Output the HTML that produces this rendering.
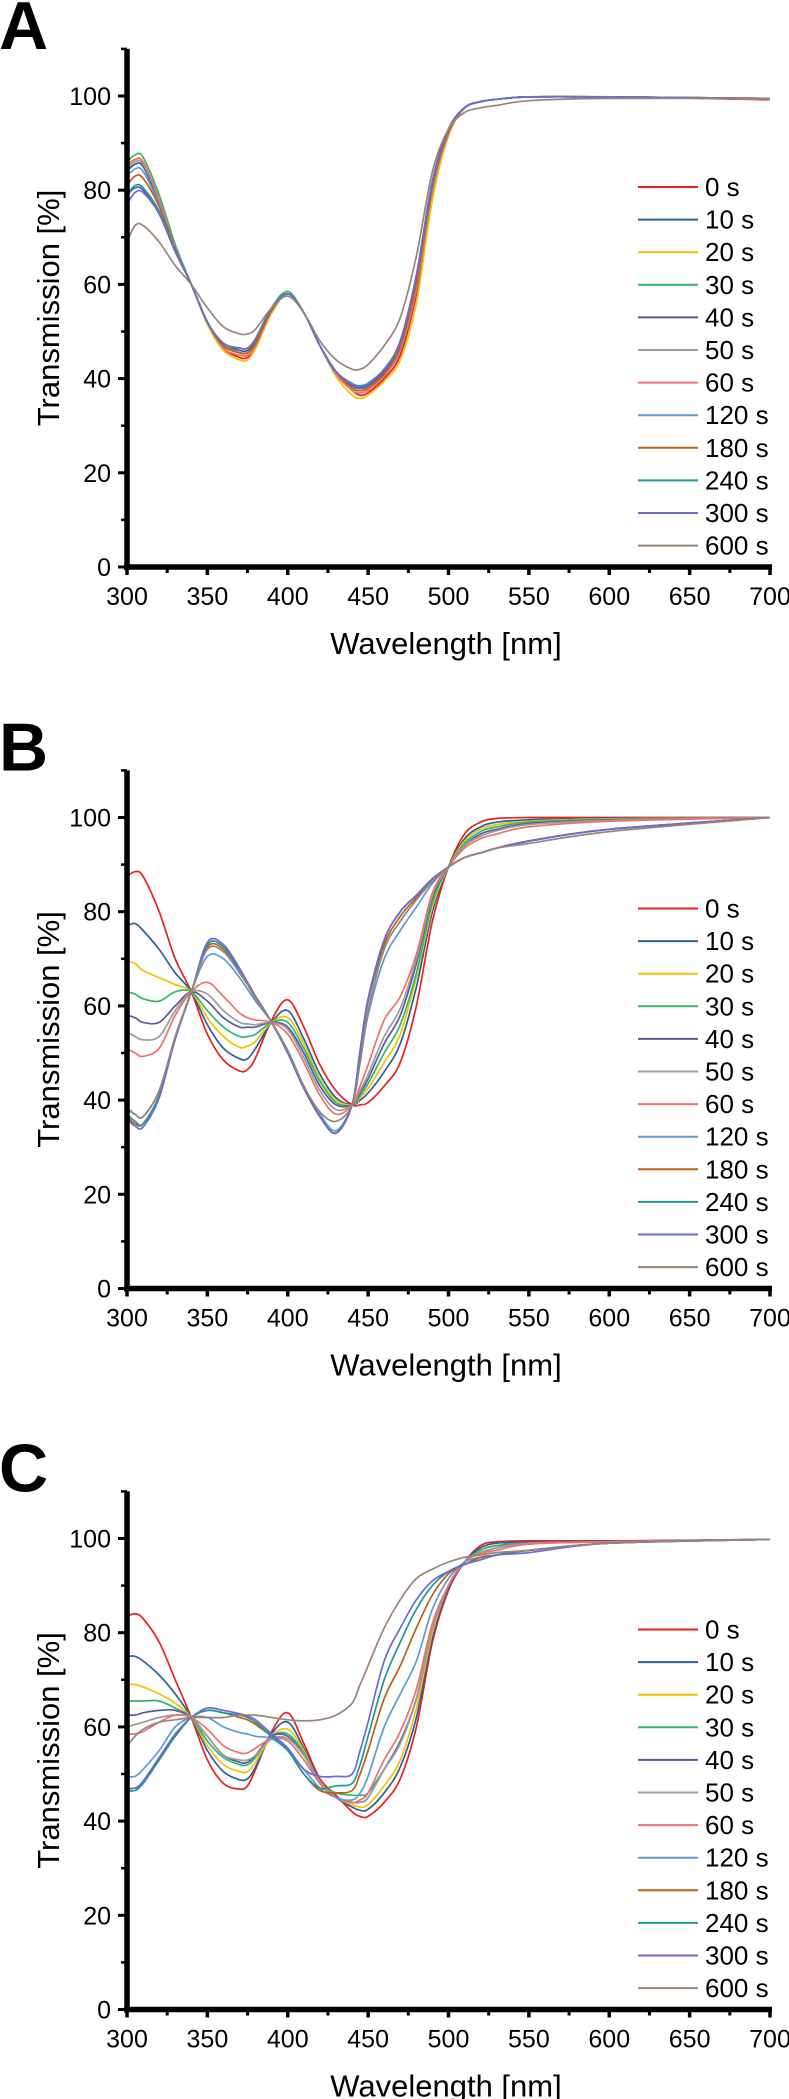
<!DOCTYPE html>
<html><head><meta charset="utf-8"><style>
html,body{margin:0;padding:0;background:#fff}
svg{display:block;font-family:"Liberation Sans",Arial,sans-serif}
</style></head><body>
<svg id="fig" width="789" height="2099" viewBox="0 0 789 2099" xmlns="http://www.w3.org/2000/svg"></svg>
<script>
const wavelengths=[300,305,310,320,330,340,350,360,370,375,380,390,400,410,420,430,440,445,450,460,470,480,490,500,510,520,530,550,600,700];
const seriesLabels=["0 s","10 s","20 s","30 s","40 s","50 s","60 s","120 s","180 s","240 s","300 s","600 s"];
const seriesColors=["#e8201f","#2b5fa0","#f5c000","#2fb86b","#5a5a9e","#9c9c9c","#f07070","#5b9bd5","#c0600c","#1a9a9a","#6a6ad8","#9a8478"];
const xTicks=[300,350,400,450,500,550,600,650,700];
const yTicks=[0,20,40,60,80,100];
const panelLetters=["A","B","C"];
const panelA=[
[85,86.5,86,78,68,60,52,46.5,44.5,44.5,46.5,54,58,54,47,41,37.5,36.5,37,40,45,58,79,92,97.5,98.8,99.3,99.8,99.8,99.2],
[84,85.5,85,77.5,68,60,52,47,45.5,45.5,47.5,54.5,58,54,47,41.5,38.5,38,38.5,41.5,47,61,81,92.5,97.5,98.8,99.3,99.8,99.8,99.5],
[85,86.5,86,78,68,60,51.5,46,44,44,46.5,54,58,54,47,40.5,36.5,35.8,36.5,39.5,44,56,78,91.5,97.5,98.8,99.3,99.8,99.8,99.3],
[86,87.5,87,79,68.5,60,52,47,46,46,48,55,58.5,54,47,41,38.5,38.5,39,42,47.5,61,81,92.5,97.5,98.8,99.3,99.8,99.8,99.5],
[79,80.5,80,75,67,60,52,47.5,46,46,48,55,58,54,47,41.5,38.5,38,38.5,41.5,47,61,81,92.5,97.5,98.8,99.3,99.8,99.8,99.5],
[84.5,86,85.5,78,68,60,52,47,45.5,45.5,47.5,54.5,58,54,47,41,38,37.5,38,41,46.5,60,80,92,97.5,98.8,99.3,99.8,99.8,99.4],
[85.5,86.5,86,78,68,60,52,46.5,45,45,47,54.5,58,54,47,41,37.5,37,37.5,40.5,46,59,80,92,97.5,98.8,99.3,99.8,99.8,99.3],
[83,84.5,84,77,68,60,52,47,45.5,45.5,47.5,54.5,58,54,47,41.5,38,37.5,38,41,46.5,60,80.5,92.5,97.5,98.8,99.3,99.8,99.8,99.4],
[81,83,82.5,76.5,67.5,60,52,47,45.5,45.5,47.5,54.5,58,54,47,41.5,38,37.5,38,41,47,60.5,81,92.5,97.5,98.8,99.3,99.8,99.8,99.4],
[79,81,80.5,75.5,67,60,52,47.5,46.5,46.5,48.5,55,58,54,47,41.5,39,38.5,39,42,48,62,82,93,97.5,98.8,99.3,99.8,99.8,99.5],
[77,79.5,79.5,75,67,60,52,47.5,46.5,46.5,48.5,55,58,54,47,41.5,38.8,38.3,38.8,42,48,62,82,93,97.5,98.8,99.3,99.8,99.8,99.5],
[69,72.5,72.5,69,64,60,55,51,49.5,49.5,50.5,55,57.5,54,48,44,42,42,43,47,53,66,84,93,96.5,97.5,98,99,99.5,99.5]];
const panelB=[
[87.5,88.5,87.5,80,70,63,54,48.5,46.2,46.5,49,57,61.3,55.5,47.5,42,39,39,39.5,43,48,60,78,89.5,96.5,99,99.8,100,100,100],
[77,77.5,76,72,67,63,56,51,48.8,48.8,51,56.5,59,53,45.5,40.5,39,40,41.5,46,52,64,80,89.5,95.5,98,99,99.5,99.8,100],
[69.5,69,67.5,66,64.5,63,57.5,53.5,51.2,51.5,52.5,56.5,57.5,52,44.5,40,39,40.5,42.5,48,54,66,81,89.5,95,97.5,98.5,99.2,99.7,100],
[63,62.5,61.5,61,63,63,59,55.5,53.5,53.5,54,56.5,56.5,51,44,39.5,39,41,43.5,50,56,67,82,89.5,94.5,97,98,99,99.6,100],
[58,57.5,56.5,56.5,60,63,61,57.5,55.5,55.5,55.5,56.5,55.5,50,43,39,39,41.5,44.5,52,58,69,83,89.5,94,96.5,97.5,98.7,99.5,100],
[54.5,53.5,52.8,53.5,59,63,62.5,59,56.5,56.2,56,56.5,55,49,42,38,39,42,45.5,53.5,59.5,70,83.5,89.5,94,96,97.2,98.5,99.4,100],
[51,50,49.3,51,58,63,65,62,58.5,57.5,57,56.5,54,48,41,37,39,43,47.5,57,62,71,84,89.5,93.5,95.5,96.5,98,99.2,100],
[38.5,37,36.5,42,53,63,70.5,70,66,63.5,61,56.5,50.5,43,37,33.5,39,48,58,70,76,81,86,89.5,91.5,92.5,93.5,95,97.5,100],
[36.5,35,35,41,53,63,72.5,72,67,64.5,62,56.5,50,42.5,36.5,33,39,50,61,73,79,83,86.5,89.5,91.5,92.5,93.5,95,97.5,100],
[37,35.5,35,41,53,63,73,72.5,67.5,65,62,56.5,50,42.5,36.5,33,39,50.5,61.5,74,80,83.5,87,89.5,91.5,92.5,93.5,95,97.5,100],
[36,34.5,34.3,40.5,53,63,73.5,73,68,65,62,56.5,50,42.5,36.5,33,39,50.5,61.5,74,80,83.5,87,89.5,91.5,92.5,93.5,95,97.5,100],
[38,37,36.5,42,53.5,63,72,71.5,67,64.5,61.5,56.5,50.5,43,37.5,35.5,39,48,59,72,78,82.5,86.5,89.5,91.5,92.5,93.5,94.5,97,100]];
const panelC=[
[83.5,84,83,78,70,62,53,48,46.8,47.5,51,59,63,56.5,49,45.5,42,41,41,44,49,60,78,89,95,98.5,99.3,99.5,99.5,99.8],
[75,75,74,71,67,62,55,50.5,48.8,49,51.5,58.5,61,55.5,48.5,45,43,42.3,42.5,46,51.5,62,79,89.5,95,98,99,99.2,99.4,99.8],
[69,69,68.5,67,65,62,56,52,50.5,50.5,52.5,58,59.5,55,48,45,43.5,43,43.5,47.5,53,64,80,90,95,97.5,98.5,99,99.3,99.8],
[65.5,65.5,65.5,65.5,64,62,57,53.5,52,52,53.5,58,58.5,54.5,48,46,45.5,45.5,46,51,56.5,66,81,90,95,97.5,98.5,99,99.3,99.8],
[62.5,62.5,63,63.5,63.5,62,58,54,52.5,52.5,54,58,58,54,48.5,45,44,44,45,51,57,66,81,90,95,97,98,99,99.3,99.8],
[60,60.5,61,62,62.5,62,58,54,53,53,54,57.5,57.5,54,48.5,45,44,44,45,51,56.5,66,81,90,95,97,98,99,99.3,99.8],
[58.5,58.5,59,61,62.5,62,59.5,56,54.5,54.5,55.5,57.5,57,53,48,45,44,44.5,46,53,59,68,82,90,95,96.8,97.5,98.8,99.3,99.8],
[49.5,49.5,51,55,60,62,62,60,58.8,58.5,58,57.5,55,51,47,45,44.5,46,49.5,60,67,74,85,91.5,95,96,96.5,97.5,99,99.8],
[47,47,48,53,58,62,63.5,63,62,61.5,60.5,58,55,50,46.5,46,46.5,50,55,66,73,81,88,92.5,94.5,96,96.5,97.5,99,99.8],
[46.5,46.5,48,53,58,62,63.5,63,62.5,62,61,58,55,50,47,47.5,48,52,58,70,78,85,90,93,94.5,95.5,96.5,97.5,99,99.8],
[47,47,48.5,53.5,58.5,62,64,63.5,62.8,62.3,61.5,58.5,55.5,51,49.5,49.5,50,55,61,74,81,87,91,93,94.5,95.5,96.5,97,99,99.8],
[56,58,59.5,61,61.5,62,62,62,62.5,62.5,62.5,62,61.5,61.3,61.5,62.5,65,69,73,81,87,91.5,93.5,95,96,96.5,97,97.5,99,99.8]];
const panelData=[panelA,panelB,panelC];

const NS="http://www.w3.org/2000/svg";
const svg=document.getElementById('fig');
function mk(tag,attrs,parent){const e=document.createElementNS(NS,tag);for(const k in attrs)e.setAttribute(k,attrs[k]);(parent||svg).appendChild(e);return e;}
const X0=127,X1=770,YS=4.71;
function xPx(w){return X0+(w-300)*(X1-X0)/400;}
const panelY0=[567,1288.5,2009.5];
function smooth(pts){let d="M"+pts[0][0].toFixed(1)+","+pts[0][1].toFixed(1);
 for(let i=0;i<pts.length-1;i++){const p0=pts[Math.max(0,i-1)],p1=pts[i],p2=pts[i+1],p3=pts[Math.min(pts.length-1,i+2)];
  const c1x=p1[0]+(p2[0]-p0[0])/6,c1y=p1[1]+(p2[1]-p0[1])/6,c2x=p2[0]-(p3[0]-p1[0])/6,c2y=p2[1]-(p3[1]-p1[1])/6;
  d+=" C"+c1x.toFixed(1)+","+c1y.toFixed(1)+" "+c2x.toFixed(1)+","+c2y.toFixed(1)+" "+p2[0].toFixed(1)+","+p2[1].toFixed(1);}
 return d;}
for(let p=0;p<3;p++){
 const y0=panelY0[p];const yPx=v=>y0-v*YS;
 const g=mk('g',{});
 
 
 const L=mk('text',{x:-1,y:y0-518,'font-size':68,'font-weight':'bold'},g);L.textContent=panelLetters[p];
 
 
 const sg=mk('g',{},g);
 panelData[p].forEach((vals,si)=>{
  const pts=wavelengths.map((w,i)=>[xPx(w),yPx(vals[i])]);
  const path=mk('path',{d:smooth(pts),fill:'none',stroke:seriesColors[si],'stroke-width':1.7},sg);
  
  
 });
 const ya=mk('line',{x1:X0,y1:yPx(110),x2:X0,y2:y0+3,stroke:'#000','stroke-width':5.5},g);
 
 
 const xa=mk('line',{x1:X0-3,y1:y0,x2:X1+2,y2:y0,stroke:'#000','stroke-width':5.5},g);
 
 
 for(let w=300;w<=700;w+=25){const maj=w%50===0;mk('line',{x1:xPx(w),y1:y0,x2:xPx(w),y2:y0+(maj?8:6),stroke:'#000','stroke-width':maj?3.5:3},g);}
 for(let v=0;v<=110;v+=10){const maj=v%20===0;mk('line',{x1:X0,y1:yPx(v),x2:X0-(maj?9:6),y2:yPx(v),stroke:'#000','stroke-width':maj?3:2.5},g);}
 xTicks.forEach(w=>{const t=mk('text',{x:xPx(w),y:y0+38,'font-size':25,'text-anchor':'middle'},g);t.textContent=w;
  
  });
 yTicks.forEach(v=>{const t=mk('text',{x:111,y:yPx(v)+9,'font-size':25,'text-anchor':'end'},g);t.textContent=v;
  
  });
 const xt=mk('text',{x:446,y:y0+87,'font-size':31,'text-anchor':'middle'},g);xt.textContent='Wavelength [nm]';
 
 
 const cy=(yPx(110)+y0)/2;
 const yt=mk('text',{x:0,y:0,'font-size':31,'text-anchor':'middle',transform:'translate(59,'+cy+') rotate(-90)'},g);yt.textContent='Transmission [%]';
 
 
 const lg=mk('g',{},g);
 
 
 seriesLabels.forEach((lab,si)=>{const ly=y0-380+si*32.6;
  const e=mk('g',{},lg);
  
  
  mk('line',{x1:638,y1:ly,x2:698,y2:ly,stroke:seriesColors[si],'stroke-width':2},e);
  const t=mk('text',{x:705,y:ly+9,'font-size':26},e);t.textContent=lab;});
}
</script>
</body></html>
